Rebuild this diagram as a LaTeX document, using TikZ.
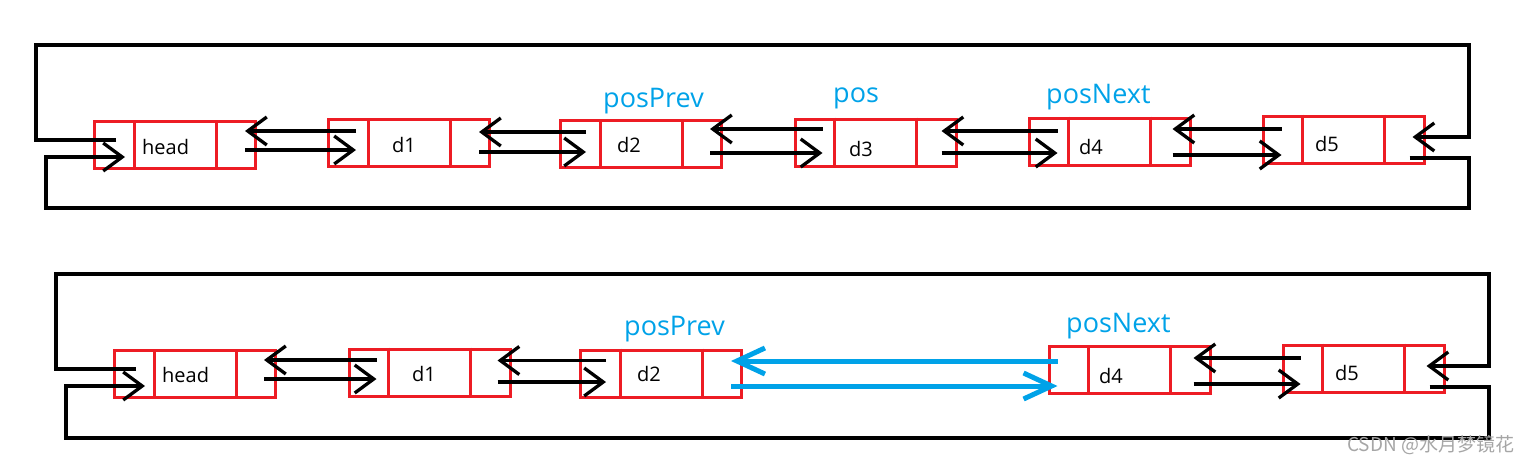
\documentclass[tikz,border=0pt]{standalone}
\usepackage{fontspec}
\setmainfont{Open Sans}
\newfontfamily\cjk{Noto Sans CJK SC}
\usetikzlibrary{arrows.meta,calc}
\definecolor{boxred}{RGB}{237,28,36}
\definecolor{lblue}{RGB}{0,162,232}
\newcommand\cells[1]{%
  \draw[boxred,line width=3pt] ([xshift=41pt]#1.north west) -- ([xshift=41pt]#1.south west);
  \draw[boxred,line width=3pt] ([xshift=-41pt]#1.north east) -- ([xshift=-41pt]#1.south east);}
% #1 A, #2 B, #3 back y offset, #4 fwd y offset, #5 inset in B, #6 inset in A, #7 style
\newcommand\dlink[7]{%
  \draw[#7] ([shift={(#5,#3)}]#1.center -| #2.west) -- ([shift={(-#6,#3)}]#1.east);
  \draw[#7] ([shift={(-#6,#4)}]#1.east) -- ([shift={(#5,#4)}]#1.center -| #2.west);}
\begin{document}
\begin{tikzpicture}[x=1pt,y=-1pt,
  cellbox/.style={draw=boxred,line width=3pt,minimum width=161pt,minimum height=47pt,inner sep=0pt,outer sep=1.5pt},
  wire/.style={line width=3.3pt,black},
  fwd/.style={wire,-{Straight Barb[length=19pt,width=28pt]}},
  bluearr/.style={line width=5pt,lblue,-{Straight Barb[length=28pt,width=26pt]}},
  boxtext/.style={font=\fontsize{20}{24}\selectfont,anchor=west,inner sep=0pt},
  ptr/.style={text=lblue,font=\fontsize{27}{31}\selectfont,anchor=base west,inner sep=0pt}]
\useasboundingbox (0,0) rectangle (1534,464);

% ---------- top row ----------
\node[cellbox] (h1) at (175,145) {};
\node[cellbox] (a1) at (409,143) {};
\node[cellbox] (a2) at (641,144) {};
\node[cellbox] (a3) at (875.5,142.5) {};
\node[cellbox] (a4) at (1109.5,141.5) {};
\node[cellbox] (a5) at (1343.5,139.5) {};
\foreach \n in {h1,a1,a2,a3,a4,a5} {\cells{\n}}
\node[boxtext] (th1) at (142,147) {head};
\node[boxtext] (ta1) at (392,145) {d1};
\node[boxtext] (ta2) at (617,145) {d2};
\node[boxtext] (ta3) at (849,149) {d3};
\node[boxtext] (ta4) at (1079,147) {d4};
\node[boxtext] (ta5) at (1315,144) {d5};
\node[ptr] (pp1) at (603,107) {posPrev};
\node[ptr] (p1) at (833,102) {pos};
\node[ptr] (pn1) at (1046,103) {posNext};

\dlink{h1}{a1}{-14}{5}{29}{12}{fwd}
\dlink{a1}{a2}{-11}{9}{27}{12}{fwd}
\dlink{a2}{a3}{-15}{9}{29}{13}{fwd}
\dlink{a3}{a4}{-11.5}{10.5}{30}{16}{fwd}
\dlink{a4}{a5}{-12.5}{13.5}{20}{19}{fwd}

\coordinate (tl) at (36,45);
\coordinate (tr) at (1469,45);
\coordinate (bl) at (46,208);
\coordinate (br) at (1469,208);
\draw[fwd] ([shift={(23,-5)}]h1.west) -| (tl) -- (tr) |- ([shift={(-13,-2.5)}]a5.east);
\draw[fwd] ([shift={(-16,18.5)}]a5.east) -| (br) -- (bl) |- ([shift={(32,12)}]h1.west);

% ---------- bottom row ----------
\node[cellbox] (h2) at (195,374) {};
\node[cellbox] (b1) at (429.5,372.5) {};
\node[cellbox] (b2) at (661,373.5) {};
\node[cellbox] (b4) at (1129.5,370) {};
\node[cellbox] (b5) at (1363.5,368.5) {};
\foreach \n in {h2,b1,b2,b4,b5} {\cells{\n}}
\node[boxtext] (th2) at (162,375) {head};
\node[boxtext] (tb1) at (412,374) {d1};
\node[boxtext] (tb2) at (637,374) {d2};
\node[boxtext] (tb4) at (1099,376) {d4};
\node[boxtext] (tb5) at (1335,373) {d5};
\node[ptr] (pp2) at (624,335) {posPrev};
\node[ptr] (pn2) at (1066,332) {posNext};

\dlink{h2}{b1}{-14}{5}{29}{13}{fwd}
\dlink{b1}{b2}{-12}{9.5}{27}{14}{fwd}
\dlink{b2}{b4}{-12.5}{12.5}{10}{12}{bluearr}
\dlink{b4}{b5}{-12}{14}{19}{18}{fwd}

\coordinate (tl2) at (56,274);
\coordinate (tr2) at (1489,274);
\coordinate (bl2) at (66,438);
\coordinate (br2) at (1489,438);
\draw[fwd] ([shift={(23,-5)}]h2.west) -| (tl2) -- (tr2) |- ([shift={(-19,-2.5)}]b5.east);
\draw[fwd] ([shift={(-16,18.5)}]b5.east) -| (br2) -- (bl2) |- ([shift={(32,12)}]h2.west);

\node[anchor=west,inner sep=0pt,text=black!35,font=\cjk\fontsize{19}{22}\selectfont] (wm) at (1347,445) {CSDN @水月梦镜花};
\end{tikzpicture}
\end{document}
